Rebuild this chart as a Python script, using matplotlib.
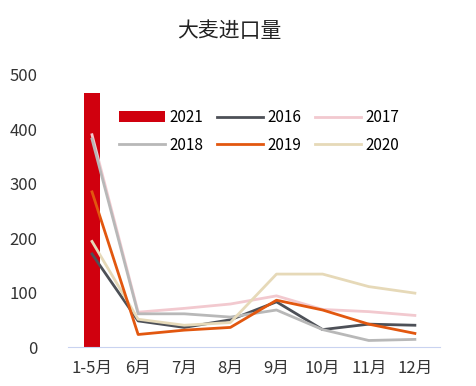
import matplotlib.pyplot as plt
import numpy as np

plt.rcParams['font.family'] = ['Noto Sans CJK SC', 'DejaVu Sans']

months = ['1-5月', '6月', '7月', '8月', '9月', '10月', '11月', '12月']
y2021 = [467]
y2016 = [171, 48, 36, 50, 83, 32, 42, 40]
y2017 = [390, 64, 71, 79, 94, 69, 65, 58]
y2018 = [382, 61, 61, 55, 68, 32, 12, 14]
y2019 = [285, 23, 31, 36, 86, 68, 42, 25]
y2020 = [194, 51, 40, 45, 134, 134, 111, 99]

fig = plt.figure(figsize=(4.77, 3.86), dpi=100)
ax = fig.add_axes([0.1426, 0.101, 0.7794, 0.705])

x = np.arange(len(months))
bar = ax.bar(x[:1], y2021, width=0.33, color='#D0000E', label='2021', zorder=1)
lw = 2.0
l16, = ax.plot(x, y2016, color='#4D5057', lw=lw, label='2016', zorder=2)
l17, = ax.plot(x, y2017, color='#F2C9CF', lw=lw, label='2017', zorder=2)
l18, = ax.plot(x, y2018, color='#B8B8B8', lw=lw, label='2018', zorder=2)
l19, = ax.plot(x, y2019, color='#E2570F', lw=lw, label='2019', zorder=3)
l20, = ax.plot(x, y2020, color='#E6D9B8', lw=lw, label='2020', zorder=2)

ax.set_xlim(-0.52, 7.54)
ax.set_ylim(0, 500)
ax.set_xticks(x)
ax.set_xticklabels(months)
ax.set_yticks([0, 100, 200, 300, 400, 500])
for s in ['top', 'right', 'left']:
    ax.spines[s].set_visible(False)
ax.spines['bottom'].set_color('#C9D3F0')
ax.tick_params(length=0, labelsize=12, colors='#333333')
ax.tick_params(axis='x', pad=9)
ax.tick_params(axis='y', pad=22)

handles = [bar, l18, l16, l19, l17, l20]
labels = ['2021', '2018', '2016', '2019', '2017', '2020']
ax.legend(handles, labels, ncol=3, loc='upper left', bbox_to_anchor=(0.1, 0.925),
          frameon=False, fontsize=11, handlelength=3.0, handletextpad=0.3,
          columnspacing=0.9, labelspacing=0.7)

fig.text(0.48, 0.92, '大麦进口量', ha='center', va='center', fontsize=15, color='#222222')

fig.savefig('out.png')
